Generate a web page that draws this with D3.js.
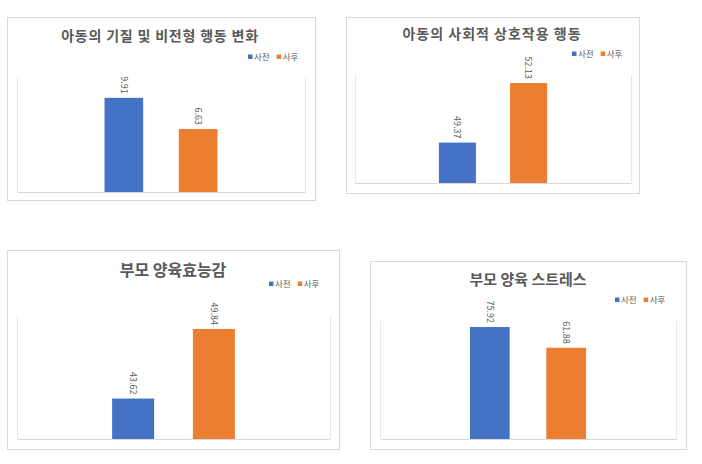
<!DOCTYPE html>
<html>
<head>
<meta charset="utf-8">
<script src="https://cdn.jsdelivr.net/npm/d3@7"></script>
<style>
  html, body { margin: 0; padding: 0; background: #fff; }
  svg { display: block; font-family: "Noto Sans CJK KR", "Noto Sans", sans-serif; }
</style>
</head>
<body>
<svg id="chart" width="702" height="464"></svg>
<script>
// chart values
const chartTitles = [
    '아동의 기질 및 비전형 행동 변화',
    '아동의 사회적 상호작용 행동',
    '부모 양육효능감',
    '부모 양육 스트레스'
];
const seriesNames = ['사전', '사후'];
const preValues = [9.91, 49.37, 43.62, 75.92];
const postValues = [6.63, 52.13, 49.84, 61.88];
const axisMin = [0, 47.5, 40, 0];
const axisMax = [12, 52.5, 51, 80];

const colors = ['#4472C4', '#ED7D31'];

// frame + plot box of each panel, as placed in the picture
const layout = [
    { frame: [7, 17, 315, 200], plot: [17, 78, 305, 192], titleX: 160, titleY: 36, titleSize: 14, spacing: 0.8, legendX: 248, legendY: 57 },
    { frame: [346, 17, 639, 193], plot: [355, 75, 631, 183], titleX: 492, titleY: 34, titleSize: 14, spacing: 1, legendX: 572, legendY: 54 },
    { frame: [7, 250, 339, 449], plot: [17, 316, 330, 439], titleX: 173, titleY: 270, titleSize: 16, spacing: 0, legendX: 269, legendY: 284 },
    { frame: [370, 261, 686, 449], plot: [380, 321, 676, 439], titleX: 528, titleY: 280, titleSize: 15, spacing: 0, legendX: 615, legendY: 300 }
];

const svg = d3.select('#chart');

function drawPanel(i) {
    const L = layout[i];
    const g = svg.append('g').attr('class', 'panel');
    const [fx0, fy0, fx1, fy1] = L.frame;
    const [px0, py0, px1, py1] = L.plot;

    // outer frame
    g.append('rect')
        .attr('x', fx0 + 0.5).attr('y', fy0 + 0.5)
        .attr('width', fx1 - fx0).attr('height', fy1 - fy0)
        .attr('fill', '#fff')
        .attr('stroke', '#d9d9d9');

    // title
    g.append('text')
        .attr('x', L.titleX)
        .attr('y', L.titleY)
        .attr('dy', '0.35em')
        .attr('text-anchor', 'middle')
        .attr('font-size', L.titleSize)
        .attr('font-weight', 'bold')
        .attr('letter-spacing', L.spacing)
        .attr('fill', '#595959')
        .text(chartTitles[i]);

    // legend
    const legend = g.append('g').attr('transform', `translate(${L.legendX},${L.legendY})`);
    let lx = 0;
    seriesNames.forEach((name, k) => {
        legend.append('rect')
            .attr('x', lx).attr('y', -2.5)
            .attr('width', 4.5).attr('height', 4.5)
            .attr('fill', colors[k]);
        const t = legend.append('text')
            .attr('x', lx + 6)
            .attr('dy', '0.35em')
            .attr('font-size', 8.5)
            .attr('fill', '#595959')
            .text(name);
        lx += 6 + t.node().getComputedTextLength() + 7;
    });

    // scales
    const w = px1 - px0;
    const cx = (px0 + px1) / 2;
    const x = d3.scaleBand()
        .domain(seriesNames)
        .range([cx - 0.258 * w, cx + 0.258 * w])
        .paddingInner(0.48)
        .paddingOuter(0.24);
    const y = d3.scaleLinear()
        .domain([axisMin[i], axisMax[i]])
        .range([py1, py0]);

    // plot side lines and category axis
    g.append('g')
        .selectAll('line')
        .data([px0, px1])
        .join('line')
        .attr('x1', d => d + 0.5).attr('x2', d => d + 0.5)
        .attr('y1', py0).attr('y2', py1)
        .attr('stroke', '#e8e8e8');

    const axis = g.append('g')
        .attr('transform', `translate(0,${py1})`)
        .call(d3.axisBottom(d3.scaleLinear().range([px0, px1])).ticks(0).tickSize(0).tickFormat(''));
    axis.select('.domain').attr('stroke', '#d9d9d9');

    const values = [preValues[i], postValues[i]];

    g.append('g')
        .selectAll('rect')
        .data(values)
        .join('rect')
        .attr('x', (d, k) => x(seriesNames[k]))
        .attr('y', d => y(d))
        .attr('width', x.bandwidth())
        .attr('height', d => y(axisMin[i]) - y(d))
        .attr('fill', (d, k) => colors[k]);

    // value labels, turned 90 degrees
    g.append('g')
        .selectAll('text')
        .data(values)
        .join('text')
        .attr('transform', (d, k) => `translate(${x(seriesNames[k]) + x.bandwidth() / 2},${y(d) - 4}) rotate(90)`)
        .attr('text-anchor', 'end')
        .attr('dy', '0.35em')
        .attr('font-size', 9)
        .attr('fill', '#595959')
        .text(d => d3.format('.2f')(d));
}

chartTitles.forEach((t, i) => drawPanel(i));
</script>
</body>
</html>
